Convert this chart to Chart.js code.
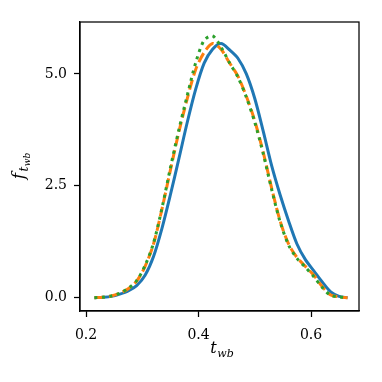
<!DOCTYPE html>
<html><head><meta charset="utf-8">
<script src="https://cdn.jsdelivr.net/npm/chart.js@4.4.0/dist/chart.umd.min.js"></script>
<style>html,body{margin:0;padding:0;background:#fff}#wrap{width:382px;height:382px}</style>
</head><body><div id="wrap"><canvas id="c" width="382" height="382"></canvas></div>
<script>
const xGrid = [0.215,0.23,0.245,0.26,0.275,0.29,0.305,0.32,0.335,0.35,0.365,0.38,0.395,0.41,0.425,0.44,0.455,0.47,0.485,0.5,0.515,0.53,0.545,0.56,0.575,0.59,0.605,0.62,0.635,0.65,0.665];
const blueVals = [0,0.01,0.03,0.08,0.15,0.27,0.5,0.92,1.55,2.3,3.1,3.92,4.66,5.24,5.55,5.68,5.54,5.35,5.0,4.45,3.72,2.95,2.3,1.72,1.2,0.85,0.6,0.35,0.13,0.03,0];
const orangeVals = [0,0.01,0.04,0.1,0.2,0.37,0.7,1.2,1.98,2.85,3.7,4.45,5.1,5.48,5.68,5.55,5.25,4.95,4.5,3.95,3.25,2.45,1.72,1.2,0.9,0.7,0.5,0.25,0.06,0.02,0];
const greenVals = [0,0.01,0.04,0.1,0.21,0.38,0.72,1.22,2.0,2.9,3.75,4.52,5.25,5.75,5.85,5.6,5.25,4.93,4.48,3.92,3.22,2.42,1.7,1.18,0.88,0.68,0.47,0.23,0.05,0.02,0];
const xTicks = [0.2,0.4,0.6];
const yTicks = [0,2.5,5];

const pts = v => xGrid.map((x,i)=>({x:x,y:v[i]}));
const SERIF = '"DejaVu Serif", serif';

function drawParts(ctx, parts, cx, cy, rot){
  ctx.save();
  ctx.translate(cx, cy);
  ctx.rotate(rot);
  ctx.fillStyle = '#000';
  ctx.textBaseline = 'alphabetic';
  ctx.textAlign = 'left';
  let total = 0;
  parts.forEach(p=>{ctx.font=p.font; total += ctx.measureText(p.t).width + (p.gap||0);});
  let x = -total/2;
  parts.forEach(p=>{ctx.font=p.font; ctx.fillText(p.t, x, p.dy); x += ctx.measureText(p.t).width + (p.gap||0);});
  ctx.restore();
}

const framePlugin = {
  id:'frame',
  afterDraw(chart){
    const {ctx, chartArea:a} = chart;
    ctx.save();
    ctx.strokeStyle = '#000';
    ctx.lineWidth = 1.25;
    ctx.strokeRect(a.left, a.top, a.right-a.left, a.bottom-a.top);
    ctx.restore();
    drawParts(ctx, [
      {t:'t', font:'italic 16px '+SERIF, dy:0, gap:0.5},
      {t:'wb', font:'italic 11px '+SERIF, dy:4}
    ], 222, 353, 0);
    drawParts(ctx, [
      {t:'f', font:'italic 17px '+SERIF, dy:0, gap:1.5},
      {t:'t', font:'italic 12px '+SERIF, dy:4, gap:0.5},
      {t:'wb', font:'italic 9px '+SERIF, dy:6}
    ], 24, 166, -Math.PI/2);
  }
};

const common = {fill:false, pointRadius:0, borderWidth:3, tension:0.3};

new Chart(document.getElementById('c'), {
  type:'line',
  data:{datasets:[
    Object.assign({label:'a', data:pts(blueVals), borderColor:'#1f77b4', order:3}, common),
    Object.assign({label:'b', data:pts(orangeVals), borderColor:'#ff7f0e', borderDash:[10,4.5], order:2}, common),
    Object.assign({label:'c', data:pts(greenVals), borderColor:'#2ca02c', borderDash:[3,4.5], order:1}, common)
  ]},
  options:{
    responsive:false, animation:false, devicePixelRatio:1,
    layout:{padding:{top:22,right:23,left:0,bottom:0}},
    plugins:{legend:{display:false}, tooltip:{enabled:false}},
    scales:{
      x:{type:'linear', min:0.1893, max:0.6853,
        afterBuildTicks:ax=>{ax.ticks = xTicks.map(v=>({value:v}));},
        afterFit:ax=>{ax.height = 71;},
        grid:{display:true, drawOnChartArea:false, drawTicks:true, tickLength:6, tickColor:'#000', tickWidth:1.25},
        border:{display:true, color:'#000', width:1.25},
        ticks:{color:'#000', font:{family:SERIF, size:14}, padding:10, maxRotation:0, callback:v=>v.toFixed(1)}
      },
      y:{type:'linear', min:-0.297, max:6.16,
        afterBuildTicks:ax=>{ax.ticks = yTicks.map(v=>({value:v}));},
        afterFit:ax=>{ax.width = 80;},
        grid:{display:true, drawOnChartArea:false, drawTicks:true, tickLength:6, tickColor:'#000', tickWidth:1.25},
        border:{display:true, color:'#000', width:1.25},
        ticks:{color:'#000', font:{family:SERIF, size:14}, padding:7, callback:v=>v.toFixed(1)}
      }
    }
  },
  plugins:[framePlugin]
});
</script></body></html>
